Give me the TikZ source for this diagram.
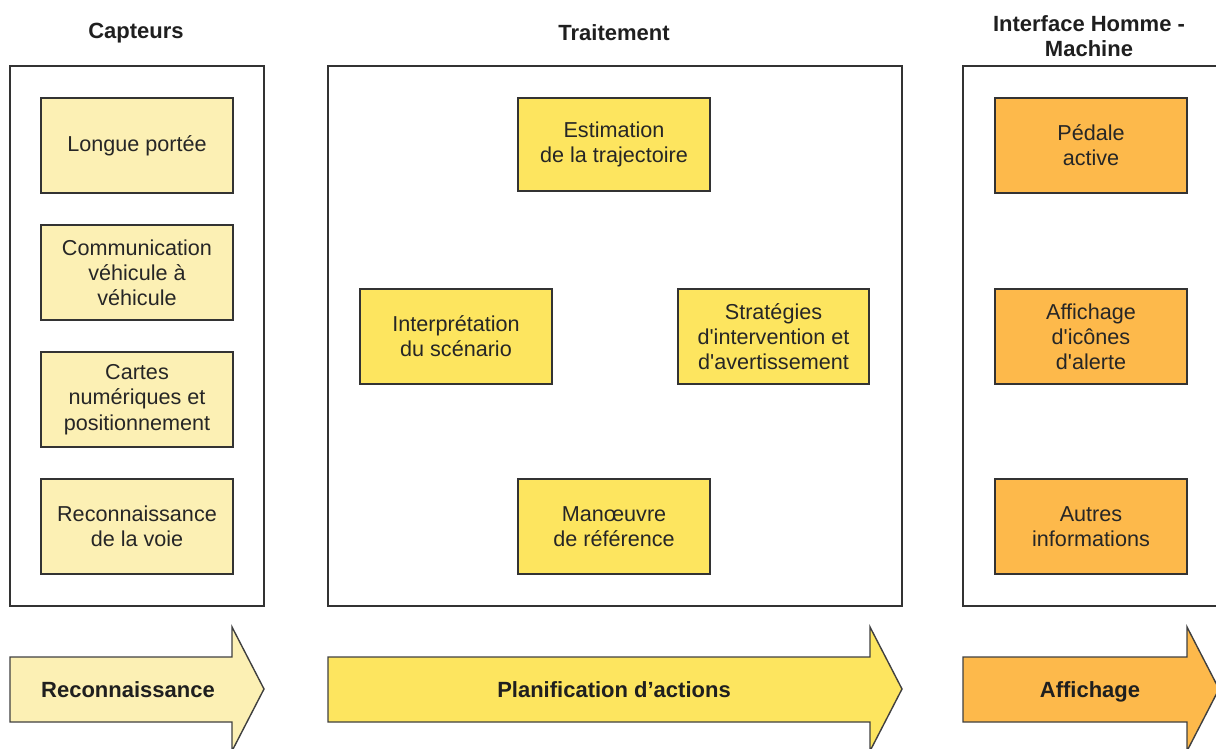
\documentclass[tikz,border=0pt]{standalone}
\usepackage{fontspec}
\setmainfont{Liberation Sans}
\begin{document}
\begin{tikzpicture}[x=0.5pt,y=-0.5pt,
  txt/.style={text=black!85, font=\fontsize{10.8}{12.6}\selectfont, align=center},
  hdr/.style={text=black!88, font=\fontsize{11}{12.6}\selectfont\bfseries, align=center},
  frame/.style={draw=black!80, line width=0.7pt, fill=white},
  light/.style={draw=black!80, line width=0.7pt, fill=lightY},
  mid/.style={draw=black!80, line width=0.7pt, fill=midY},
  org/.style={draw=black!80, line width=0.7pt, fill=orgY},
  arr/.style={draw=black!75, line width=0.7pt, line join=miter}]
\definecolor{lightY}{HTML}{FCF0B4}
\definecolor{midY}{HTML}{FDE55F}
\definecolor{orgY}{HTML}{FDB94B}
\useasboundingbox (0,0) rectangle (1216,749);
\begin{scope}
\clip (0,0) rectangle (1216,749);
% headers
\node[hdr] (hcap) at (136,33) {Capteurs};
\node[hdr] (htrt) at (614,33) {Traitement};
\node[hdr] (hihm) at (1089,36) {Interface Homme -\\Machine};
% frames
\draw[frame] (10,66) rectangle (264,606);
\draw[frame] (328,66) rectangle (902,606);
\draw[frame] (963,66) rectangle (1230,606);
% left boxes
\draw[light] (41,98) rectangle (233,193);
\node[txt] (b1) at (137,145.5) {Longue portée};
\draw[light] (41,225) rectangle (233,320);
\node[txt] (b2) at (137,272.5) {Communication\\véhicule à\\véhicule};
\draw[light] (41,352) rectangle (233,447);
\node[txt] (b3) at (137,399.5) {Cartes\\numériques et\\positionnement};
\draw[light] (41,479) rectangle (233,574);
\node[txt] (b4) at (137,526.5) {Reconnaissance\\de la voie};
% middle boxes
\draw[mid] (518,98) rectangle (710,191);
\node[txt] (m1) at (614,144.5) {Estimation\\de la trajectoire};
\draw[mid] (360,289) rectangle (552,384);
\node[txt] (m2) at (456,336.5) {Interprétation\\du scénario};
\draw[mid] (678,289) rectangle (869,384);
\node[txt] (m3) at (773.5,336.5) {Stratégies\\d\textquotesingle intervention et\\d\textquotesingle avertissement};
\draw[mid] (518,479) rectangle (710,574);
\node[txt] (m4) at (614,526.5) {Manœuvre\\de référence};
% right boxes
\draw[org] (995,98) rectangle (1187,193);
\node[txt] (r1) at (1091,145.5) {Pédale\\active};
\draw[org] (995,289) rectangle (1187,384);
\node[txt] (r2) at (1091,336.5) {Affichage\\d\textquotesingle icônes\\d\textquotesingle alerte};
\draw[org] (995,479) rectangle (1187,574);
\node[txt] (r3) at (1091,526.5) {Autres\\informations};
% arrows
\draw[arr, fill=lightY] (10,657) -- (232,657) -- (232,627) -- (264,689) -- (232,751) -- (232,722) -- (10,722) -- cycle;
\node[hdr, anchor=base] (a1) at (128,697) {Reconnaissance};
\draw[arr, fill=midY] (328,657) -- (870,657) -- (870,627) -- (902,689) -- (870,751) -- (870,722) -- (328,722) -- cycle;
\node[hdr, anchor=base] (a2) at (614,697) {Planification d’actions};
\draw[arr, fill=orgY] (963,657) -- (1187,657) -- (1187,627) -- (1219,689) -- (1187,751) -- (1187,722) -- (963,722) -- cycle;
\node[hdr, anchor=base] (a3) at (1090,697) {Affichage};
\end{scope}
\end{tikzpicture}
\end{document}
